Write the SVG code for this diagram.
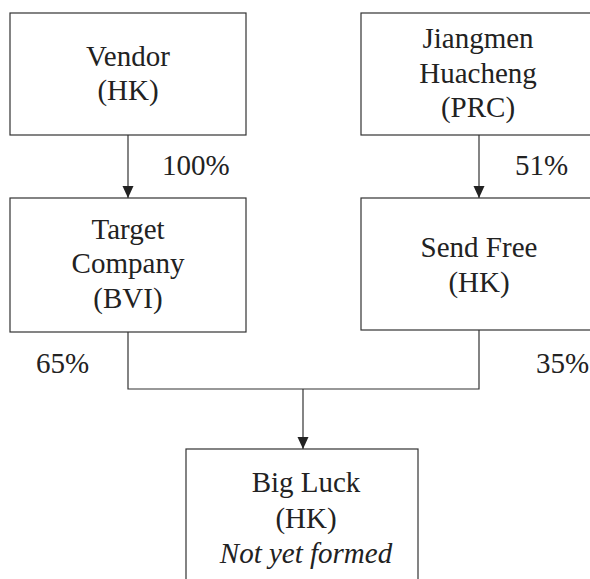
<svg xmlns="http://www.w3.org/2000/svg" width="590" height="579" viewBox="0 0 590 579">
<style>
.box{fill:#fff;stroke:#333;stroke-width:1.2}
.ln{fill:none;stroke:#333;stroke-width:1.2}
text{font-family:"Liberation Serif","Times New Roman",serif;font-size:29px;fill:#222}
.c{text-anchor:middle}
.i{font-style:italic}
</style>
<defs>
<marker id="ah" markerWidth="12" markerHeight="12" refX="12" refY="5.5" orient="auto" markerUnits="userSpaceOnUse">
<path d="M0,0 L12,5.5 L0,11 Z" fill="#222"/>
</marker>
</defs>
<rect width="590" height="579" fill="#fff"/>
<g id="connectors">
<line class="ln" x1="128" y1="135" x2="128" y2="198" marker-end="url(#ah)"/>
<line class="ln" x1="479" y1="135" x2="479" y2="198" marker-end="url(#ah)"/>
<polyline class="ln" points="128,332 128,389 479,389 479,330"/>
<line class="ln" x1="303" y1="389" x2="303" y2="449" marker-end="url(#ah)"/>
<text x="162" y="175">100%</text>
<text x="515" y="175">51%</text>
<text x="36" y="373">65%</text>
<text x="536" y="373">35%</text>
</g>
<g id="vendor">
<rect class="box" x="10" y="13" width="236" height="122"/>
<text class="c" x="128" y="66">Vendor</text>
<text class="c" x="128" y="100">(HK)</text>
</g>
<g id="jiangmen">
<rect class="box" x="361" y="13" width="240" height="122"/>
<text class="c" x="478" y="48">Jiangmen</text>
<text class="c" x="478" y="83">Huacheng</text>
<text class="c" x="478" y="117">(PRC)</text>
</g>
<g id="target">
<rect class="box" x="10" y="198" width="236" height="134"/>
<text class="c" x="128" y="239">Target</text>
<text class="c" x="128" y="273">Company</text>
<text class="c" x="128" y="308">(BVI)</text>
</g>
<g id="sendfree">
<rect class="box" x="361" y="198" width="240" height="132"/>
<text class="c" x="479" y="257">Send Free</text>
<text class="c" x="479" y="292">(HK)</text>
</g>
<g id="bigluck">
<rect class="box" x="186" y="449" width="232" height="140"/>
<text class="c" x="306" y="492">Big Luck</text>
<text class="c" x="306" y="528">(HK)</text>
<text class="c i" x="306" y="563">Not yet formed</text>
</g>
</svg>
